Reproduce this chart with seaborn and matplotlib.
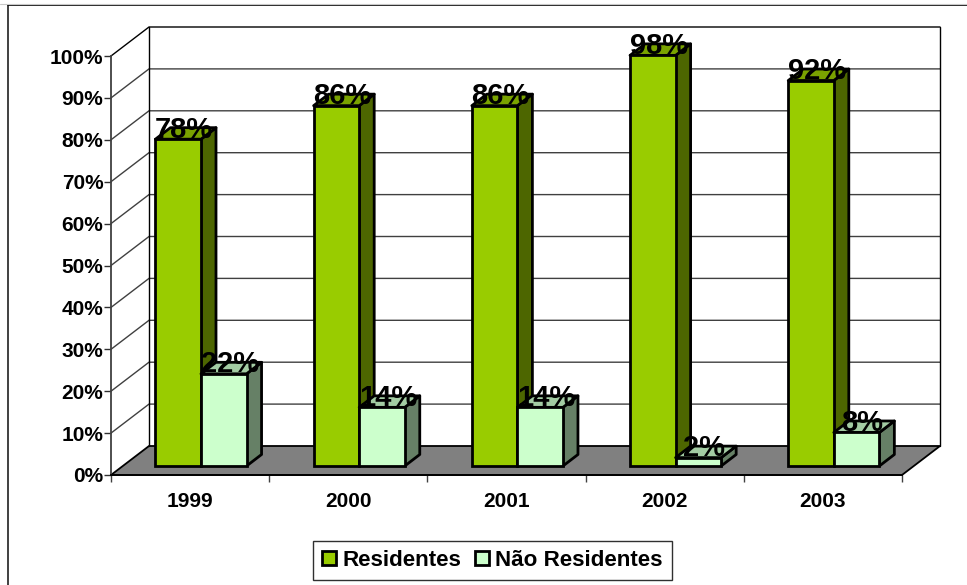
import matplotlib
matplotlib.use("Agg")
import matplotlib.pyplot as plt
import pandas as pd
import seaborn as sns
from matplotlib.lines import Line2D
from matplotlib.patches import Patch, Polygon

years = ["1999", "2000", "2001", "2002", "2003"]
residentes = [78, 86, 86, 98, 92]
nao_residentes = [22, 14, 14, 2, 8]
series_names = ["Residentes", "Não Residentes"]
y_ticks = list(range(0, 101, 10))

FRONT = ["#99CC00", "#CCFFCC"]
TOP = ["#7AA300", "#A3CCA3"]
SIDE = ["#4D6600", "#668066"]
FLOOR = "#808080"

W, H = 967, 585
L, R, T, B = 111, 902, 56, 475          # front plane of the chart, pixels
WALL_DX, WALL_DY = 38, 29               # total chart depth, pixels
BAR_SHIFT_X, BAR_SHIFT_Y = 10.9, -9     # bars sit inside the depth
BAR_DX, BAR_DY = 15, 11.5               # depth of one bar, pixels

sns.set_theme(style="white")
plt.rcParams["font.family"] = ["Liberation Sans", "DejaVu Sans"]

fig = plt.figure(figsize=(W / 100, H / 100), dpi=100, facecolor="white")


def rect(dx=0.0, dy=0.0):
    return [(L + dx) / W, 1 - (B + dy) / H, (R - L) / W, (B - T) / H]


ax = fig.add_axes(rect())
bx = fig.add_axes(rect(BAR_SHIFT_X, BAR_SHIFT_Y))
for a in (ax, bx):
    a.set_xlim(-0.5, len(years) - 0.5)
    a.set_ylim(0, 100)
    a.patch.set_alpha(0)

px_x = len(years) / (R - L)
px_y = 100 / (B - T)
wx, wy = WALL_DX * px_x, WALL_DY * px_y
x0, x1 = -0.5, len(years) - 0.5

# Floor and walls
ax.add_patch(Polygon([(x0, 0), (x1, 0), (x1 + wx, wy), (x0 + wx, wy)], closed=True,
                     facecolor=FLOOR, edgecolor="black", lw=1.3, clip_on=False, zorder=1))
for v in y_ticks[1:]:
    shade = "black" if v == 100 else "#404040"
    ax.plot([x0, x0 + wx, x1 + wx], [v, v + wy, v + wy], color=shade, lw=1.0,
            clip_on=False, zorder=1, solid_joinstyle="miter")
ax.plot([x0 + wx, x0 + wx], [wy, 100 + wy], color="black", lw=1.0, clip_on=False, zorder=1)
ax.plot([x1 + wx, x1 + wx], [wy, 100 + wy], color="black", lw=1.0, clip_on=False, zorder=1)

# Axes, ticks and labels
sns.despine(ax=ax, top=True, right=True)
ax.spines["left"].set_color("#404040")
ax.spines["left"].set_linewidth(1.3)
ax.spines["bottom"].set_color("black")
ax.spines["bottom"].set_linewidth(1.3)
ax.set_yticks(y_ticks)
ax.set_yticklabels([f"{v}%" for v in y_ticks], fontsize=15, fontweight="bold", color="black")
ax.tick_params(axis="y", left=True, length=5, width=1, color="#303030", pad=0.5)
ax.set_xticks(range(len(years)))
ax.set_xticklabels(years, fontsize=15, fontweight="bold", color="black")
ax.tick_params(axis="x", which="major", bottom=False, length=0, pad=12)
ax.set_xticks([i - 0.5 for i in range(len(years) + 1)], minor=True)
ax.tick_params(axis="x", which="minor", bottom=True, length=5, width=1, color="#404040")

# Bars
df = pd.DataFrame({
    "Ano": years * 2,
    "Valor": residentes + nao_residentes,
    "Serie": [series_names[0]] * len(years) + [series_names[1]] * len(years),
})
sns.barplot(data=df, x="Ano", y="Valor", hue="Serie", hue_order=series_names,
            palette=dict(zip(series_names, FRONT)), width=0.576, gap=0, saturation=1,
            edgecolor="black", linewidth=2.0, legend=False, ax=bx)
bx.set_xlim(-0.5, len(years) - 0.5)
bx.set_ylim(0, 100)
bx.axis("off")

dx, dy = BAR_DX * px_x, BAR_DY * px_y
for s, container in enumerate(bx.containers):
    base = 2 + 2 * s
    for p in container:
        xa, w, h = p.get_x(), p.get_width(), p.get_height()
        xb = xa + w
        p.set_zorder(base + 1)
        p.set_clip_on(False)
        bx.add_patch(Polygon([(xb, 0), (xb + dx, dy), (xb + dx, h + dy), (xb, h)], closed=True,
                             facecolor=SIDE[s], edgecolor="black", lw=2.0, clip_on=False,
                             joinstyle="round", zorder=base))
        bx.add_patch(Polygon([(xa, h), (xb, h), (xb + dx, h + dy), (xa + dx, h + dy)], closed=True,
                             facecolor=TOP[s], edgecolor="black", lw=2.0, clip_on=False,
                             joinstyle="round", zorder=base))
        bx.annotate(f"{h:.0f}%", xy=(xa + w / 2, h), xytext=(4.3, 1.2), textcoords="offset points",
                    ha="center", va="baseline", fontsize=21, fontweight="bold", color="black",
                    zorder=10, annotation_clip=False)

# Legend
handles = [Patch(facecolor=c, edgecolor="black", linewidth=2.0) for c in FRONT]
leg = fig.legend(handles, series_names, ncol=2, loc="center",
                 bbox_to_anchor=(492.5 / W, 1 - 560.5 / H), frameon=True, fancybox=False,
                 edgecolor="#303030", facecolor="white", framealpha=1, labelcolor="black",
                 prop={"size": 16.1, "weight": "bold"}, handlelength=0.62, handleheight=0.62,
                 handletextpad=0.3, columnspacing=0.6, borderpad=0.42, borderaxespad=0)
leg.get_frame().set_linewidth(1.0)

# Outer chart frame, cut off by the image edge
fig.add_artist(Line2D([8 / W, 8 / W], [0, 1 - 5 / H], color="#202020", lw=1.2))
fig.add_artist(Line2D([8 / W, 1], [1 - 5 / H, 1 - 5 / H], color="black", lw=1.2))
fig.add_artist(Line2D([0, 1], [1 - 4 / H, 1 - 4 / H], color="#C8C8C8", lw=0.8))

fig.savefig("out.png", dpi=100)
